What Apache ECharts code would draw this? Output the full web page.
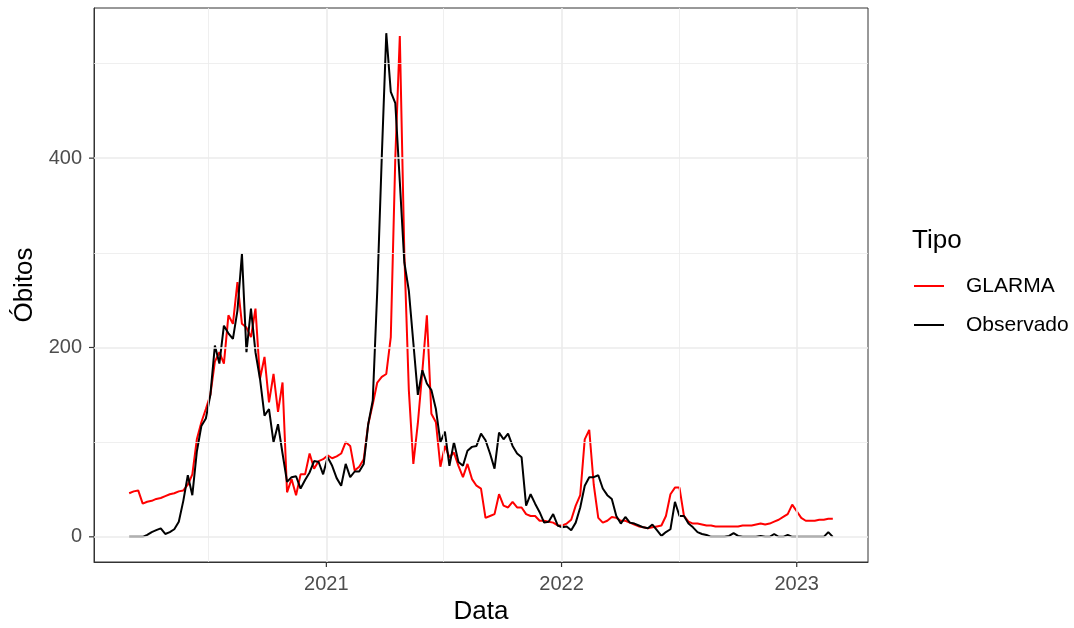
<!DOCTYPE html>
<html>
<head>
<meta charset="utf-8">
<script src="https://cdn.jsdelivr.net/npm/echarts@6/dist/echarts.min.js"></script>
<style>
  html, body { margin: 0; padding: 0; background: #fff; }
  #chart { width: 1074px; height: 628px; }
</style>
</head>
<body>
<div id="chart"></div>
<script>
// semanas (epi) a partir de 01/03/2020
const startDate = Date.UTC(2020, 2, 1);
const WEEK = 7 * 24 * 3600 * 1000;

const glarma = [
  46, 48, 49, 35, 37, 38, 40, 41, 43, 45,
  46, 48, 49, 55, 66, 103, 121, 135, 150, 185,
  195, 183, 234, 225, 269, 225, 221, 211, 241, 167,
  190, 142, 172, 132, 163, 47, 61, 44, 66, 66,
  88, 72, 80, 82, 86, 83, 85, 88, 100, 96,
  70, 74, 82, 119, 140, 163, 169, 172, 211, 400,
  529, 300, 155, 77, 120, 175, 234, 130, 121, 74,
  96, 84, 89, 75, 63, 77, 61, 54, 51, 20,
  22, 24, 45, 33, 31, 37, 31, 31, 24, 22,
  22, 17, 17, 16, 15, 12, 12, 14, 18, 33,
  44, 103, 113, 55, 20, 15, 17, 21, 20, 17,
  17, 15, 13, 11, 10, 9, 10, 11, 12, 22,
  45, 52, 52, 22, 16, 14, 14, 13, 12, 12,
  11, 11, 11, 11, 11, 11, 12, 12, 12, 13,
  14, 13, 14, 16, 18, 21, 24, 34, 27, 20,
  17, 17, 17, 18, 18, 19, 19
];

const observado = [
  0, 0, 0, 0, 2, 5, 7, 9, 3, 5,
  8, 16, 38, 65, 44, 90, 117, 125, 150, 202,
  183, 223, 215, 209, 239, 299, 195, 241, 195, 167,
  128, 135, 100, 119, 88, 58, 63, 64, 51, 60,
  68, 80, 79, 66, 84, 75, 62, 54, 77, 63,
  69, 69, 77, 119, 144, 260, 401, 532, 470, 458,
  375, 290, 260, 205, 150, 176, 162, 155, 135, 100,
  111, 75, 100, 79, 75, 91, 95, 96, 109, 102,
  88, 72, 110, 103, 109, 96, 88, 84, 33, 45,
  35, 26, 15, 16, 24, 12, 10, 11, 7, 15,
  31, 54, 63, 63, 65, 51, 44, 40, 22, 14,
  21, 15, 14, 12, 10, 9, 13, 7, 1, 5,
  8, 37, 22, 22, 14, 10, 5, 3, 2, 0,
  0, 0, 0, 1, 4, 1, 0, 0, 0, 0,
  1, 0, 0, 3, 0, 0, 2, 0, 0, 0,
  0, 0, 0, 0, 0, 5, 0
];

const yearTicks = [2021, 2022, 2023];
const halfYears = [2020, 2021, 2022];
const yTicks = [0, 200, 400];
const yMinor = [100, 300, 500];

const weeks = glarma.map((_, i) => startDate + i * WEEK);

// expansão de 5% como no ggplot
const xSpan = weeks[weeks.length - 1] - weeks[0];
const xMin = weeks[0] - 0.05 * xSpan;
const xMax = weeks[weeks.length - 1] + 0.05 * xSpan;
const yTop = Math.max(...glarma, ...observado);
const yMin = -0.05 * yTop;
const yMax = yTop * 1.05;

const FONT = 'Liberation Sans, Arial, sans-serif';
const TICK = '#333';
const LABEL = '#4d4d4d';

const chart = echarts.init(document.getElementById('chart'));

const gridLine = (w) => ({ color: '#ebebeb', width: w, type: 'solid' });
const axisEdge = { show: true, onZero: false, lineStyle: { color: '#333', width: 1 } };

chart.setOption({
  animation: false,
  backgroundColor: '#fff',
  textStyle: { fontFamily: FONT },
  title: {
    text: 'Tipo',
    left: 907,
    top: 223,
    textStyle: { fontFamily: FONT, fontSize: 26, fontWeight: 'normal', color: '#000' }
  },
  legend: {
    orient: 'vertical',
    left: 909,
    top: 270,
    itemWidth: 30,
    itemHeight: 2,
    itemGap: 17,
    icon: 'rect',
    data: ['GLARMA', 'Observado'],
    textStyle: { fontFamily: FONT, fontSize: 21, color: '#000', padding: [0, 0, 0, 17], lineHeight: 22 }
  },
  grid: {
    left: 94, right: 206, top: 8, bottom: 66,
    outerBoundsMode: 'none',
    show: true,
    borderColor: '#333',
    borderWidth: 1,
    backgroundColor: '#fff'
  },
  xAxis: {
    type: 'value',
    min: xMin,
    max: xMax,
    name: 'Data',
    nameLocation: 'middle',
    nameGap: 36,
    nameTextStyle: { fontFamily: FONT, fontSize: 26, color: '#000' },
    axisLine: axisEdge,
    splitLine: { show: false },
    axisTick: { show: false },
    axisLabel: {
      customValues: yearTicks.map(y => Date.UTC(y, 0, 1)),
      // marca do eixo desenhada junto com o rótulo
      formatter: v => '{t|}\n{y|' + new Date(v).getUTCFullYear() + '}',
      margin: 0,
      rich: {
        t: { width: 1.2, height: 5, backgroundColor: TICK },
        y: { fontFamily: FONT, fontSize: 20, color: LABEL, lineHeight: 34 }
      }
    }
  },
  yAxis: {
    type: 'value',
    min: yMin,
    max: yMax,
    name: 'Óbitos',
    nameLocation: 'middle',
    nameGap: 54,
    nameTextStyle: { fontFamily: FONT, fontSize: 26, color: '#000' },
    axisLine: axisEdge,
    splitLine: { show: false },
    axisTick: { show: false },
    axisLabel: {
      customValues: yTicks,
      formatter: v => '{y|' + v + '}{t|}',
      margin: 0,
      rich: {
        y: { fontFamily: FONT, fontSize: 20, color: LABEL, padding: [0, 7, 0, 0], verticalAlign: 'middle' },
        t: { width: 5, height: 1.2, backgroundColor: TICK, verticalAlign: 'middle' }
      }
    }
  },
  series: [
    {
      name: 'grid',
      type: 'line',
      data: [],
      z: 1,
      silent: true,
      markLine: {
        silent: true,
        symbol: 'none',
        label: { show: false },
        data: [
          ...halfYears.map(y => ({ xAxis: Date.UTC(y, 6, 2), lineStyle: gridLine(0.8) })),
          ...yMinor.map(v => ({ yAxis: v, lineStyle: gridLine(0.8) })),
          ...yearTicks.map(y => ({ xAxis: Date.UTC(y, 0, 1), lineStyle: gridLine(1.6) })),
          ...yTicks.map(v => ({ yAxis: v, lineStyle: gridLine(1.6) }))
        ]
      }
    },
    {
      name: 'GLARMA',
      type: 'line',
      z: 3,
      showSymbol: false,
      color: '#ff0000',
      lineStyle: { width: 2, color: '#ff0000' },
      data: weeks.map((t, i) => [t, glarma[i]])
    },
    {
      name: 'Observado',
      type: 'line',
      z: 4,
      showSymbol: false,
      color: '#000',
      lineStyle: { width: 2, color: '#000' },
      data: weeks.map((t, i) => [t, observado[i]])
    }
  ]
});
</script>
</body>
</html>
